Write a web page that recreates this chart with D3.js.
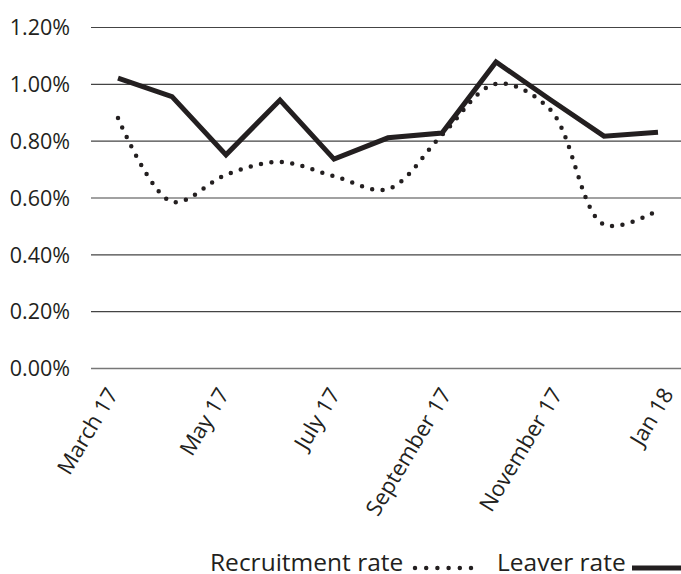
<!DOCTYPE html>
<html>
<head>
<meta charset="utf-8">
<script src="https://cdn.jsdelivr.net/npm/d3@7"></script>
<style>
  body { margin: 0; background: #fff; }
  svg text { font-family: "Open Sans", "Noto Sans", sans-serif; fill: #231f20; }
</style>
</head>
<body>
<svg id="chart" width="681" height="574"></svg>
<script>
var months = ["March 17", "April 17", "May 17", "June 17", "July 17", "August 17",
              "September 17", "October 17", "November 17", "December 17", "Jan 18"];
var tickLabels = ["March 17", "May 17", "July 17", "September 17", "November 17", "Jan 18"];
var recruitmentRate = [0.88, 0.585, 0.68, 0.725, 0.675, 0.63, 0.82, 1.00, 0.91, 0.505, 0.555];
var leaverRate = [1.02, 0.955, 0.75, 0.943, 0.735, 0.81, 0.827, 1.077, 0.945, 0.816, 0.83];
var yTicks = [0, 0.2, 0.4, 0.6, 0.8, 1.0, 1.2];

var svg = d3.select("#chart"),
    margin = {top: 27, right: -4, bottom: 206, left: 91},
    width = 681 - margin.left - margin.right,
    height = 574 - margin.top - margin.bottom,
    ink = "#231f20";

var g = svg.append("g")
    .attr("transform", "translate(" + margin.left + "," + margin.top + ")");

var x = d3.scalePoint()
    .domain(months)
    .range([0, width])
    .padding(0.5);

// labels sit on a slightly wider spacing than the points in the original
var xLabels = d3.scalePoint()
    .domain(months)
    .range([-4, 607])
    .padding(0.5);

var y = d3.scaleLinear()
    .domain([0, 1.2])
    .range([height, 0]);

// gridlines + y labels
var yAxis = d3.axisLeft(y)
    .tickValues(yTicks)
    .tickSize(-width)
    .tickFormat(function(d) { return d.toFixed(2) + "%"; });

g.append("g")
    .attr("class", "yAxis")
    .call(yAxis)
    .call(function(a) {
        a.select(".domain").remove();
        a.selectAll("line")
            .attr("stroke", function(d) { return d === 0 ? "#777" : "#444"; })
            .attr("stroke-width", function(d) { return d === 0 ? 1.6 : 1.2; });
        a.selectAll("text")
            .attr("x", -21)
            .attr("dy", "0.36em")
            .style("font-size", "21.5px");
    });

// x labels, rotated
var xAxis = d3.axisBottom(xLabels)
    .tickValues(tickLabels)
    .tickSize(0);

g.append("g")
    .attr("class", "xAxis")
    .attr("transform", "translate(0," + height + ")")
    .call(xAxis)
    .call(function(a) {
        a.select(".domain").remove();
        a.selectAll("text")
            .attr("text-anchor", "end")
            .attr("dy", "0.35em")
            .attr("transform", "translate(-3,22) rotate(-59)")
            .attr("x", 0)
            .attr("y", 0)
            .style("font-size", "22px");
    });

var recruitLine = d3.line()
    .x(function(d, i) { return x(months[i]); })
    .y(function(d) { return y(d); })
    .curve(d3.curveCatmullRom.alpha(0.5));

var leaverLine = d3.line()
    .x(function(d, i) { return x(months[i]); })
    .y(function(d) { return y(d); });

g.append("path")
    .datum(recruitmentRate)
    .attr("fill", "none")
    .attr("stroke", ink)
    .attr("stroke-width", 4.5)
    .attr("stroke-linecap", "round")
    .attr("stroke-dasharray", "0,10.5")
    .attr("d", recruitLine);

g.append("path")
    .datum(leaverRate)
    .attr("fill", "none")
    .attr("stroke", ink)
    .attr("stroke-width", 5)
    .attr("d", leaverLine);

// legend
var legend = svg.append("g").attr("class", "legend");

legend.append("text")
    .attr("x", 210)
    .attr("y", 571)
    .style("font-size", "24.5px")
    .text("Recruitment rate");

legend.append("line")
    .attr("x1", 415).attr("x2", 472)
    .attr("y1", 568).attr("y2", 568)
    .attr("stroke", ink)
    .attr("stroke-width", 4.5)
    .attr("stroke-linecap", "round")
    .attr("stroke-dasharray", "0,11.2");

legend.append("text")
    .attr("x", 497)
    .attr("y", 571)
    .style("font-size", "24.5px")
    .text("Leaver rate");

legend.append("line")
    .attr("x1", 632).attr("x2", 690)
    .attr("y1", 568).attr("y2", 568)
    .attr("stroke", ink)
    .attr("stroke-width", 5);
</script>
</body>
</html>
